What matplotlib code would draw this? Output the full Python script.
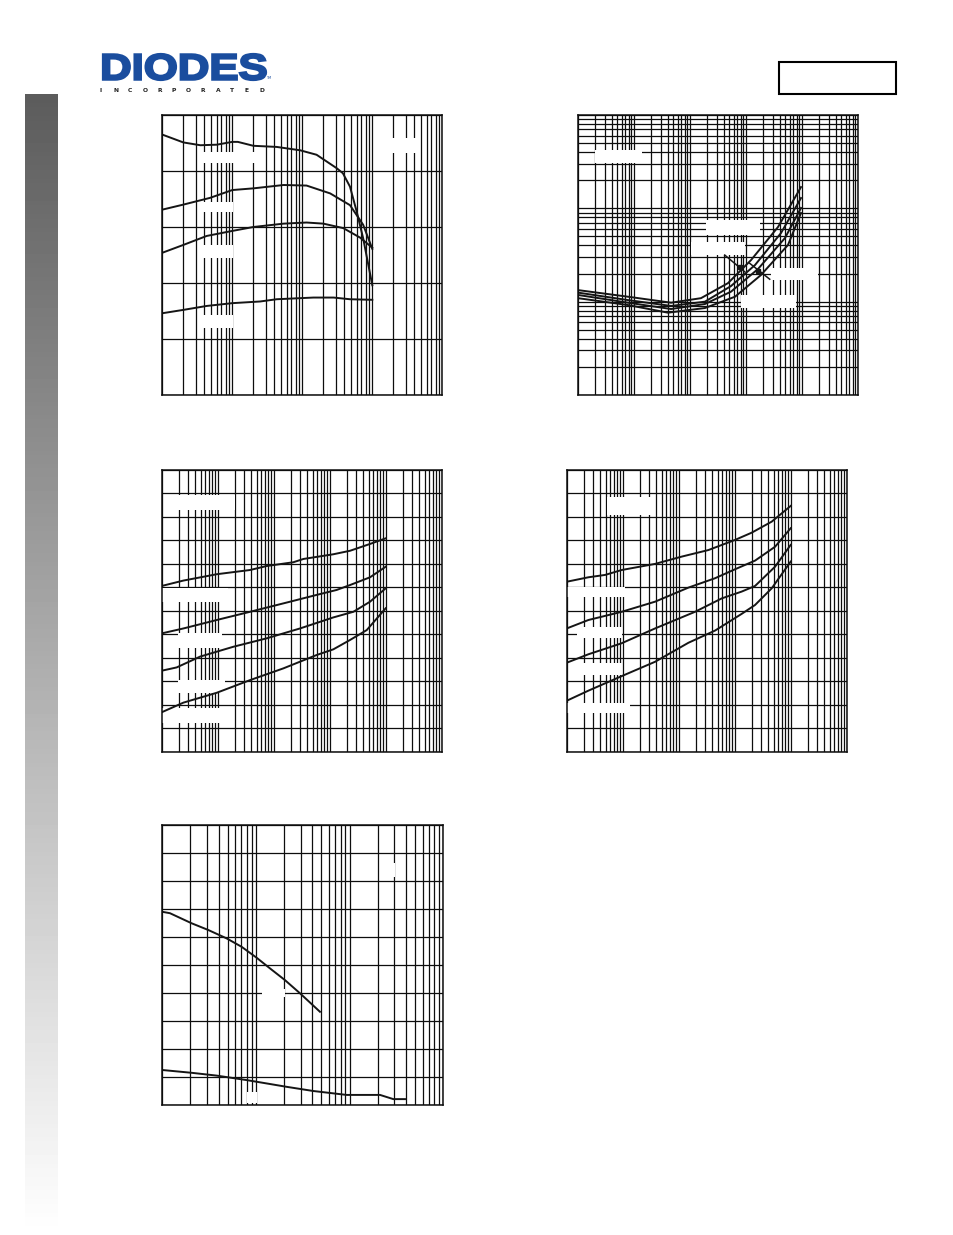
import numpy as np
import matplotlib
matplotlib.use("Agg")
import matplotlib.pyplot as plt
from matplotlib.patches import Rectangle, PathPatch
from matplotlib.ticker import LogLocator, MultipleLocator, NullFormatter
from matplotlib.textpath import TextPath
from matplotlib.font_manager import FontProperties
from matplotlib.transforms import Affine2D

W, H = 954, 1235

# ---- values ----
# panel 1 (top left), log x / linear y
p1_x1 = [0.1, 0.2, 0.35, 0.6, 1.0, 1.2, 2, 4.3, 9.3, 16, 31, 38, 48, 60, 74, 100]
p1_y1 = [465, 451, 446, 447, 452, 452, 445, 443, 437, 429, 405, 396, 372, 327, 280, 196]
p1_x2 = [0.1, 0.2, 0.48, 1.0, 2, 5.4, 11.5, 25, 48, 74, 100]
p1_y2 = [331, 340, 352, 366, 369, 375, 374, 360, 339, 304, 261]
p1_x3 = [0.1, 0.2, 0.43, 1.0, 2, 5.4, 11.5, 20, 38.5, 67, 100]
p1_y3 = [254, 268, 284, 293, 300, 306, 308, 306, 298, 281, 263]
p1_x4 = [0.1, 0.2, 0.43, 1.0, 2.5, 4.3, 14.4, 28, 48, 100]
p1_y4 = [146, 152, 159, 164, 167, 171, 174, 174, 171, 170]

# panel 2 (top right), log x / log y
p2_x1 = [0.1, 0.78, 4.6, 15.7, 47.7, 123, 373, 960]
p2_y1 = [0.0133, 0.0113, 0.00975, 0.0109, 0.0158, 0.0279, 0.0631, 0.169]
p2_x2 = [0.1, 0.78, 4.6, 18.5, 54, 145, 422, 960]
p2_y2 = [0.0125, 0.0104, 0.0090, 0.0100, 0.0147, 0.0247, 0.0544, 0.129]
p2_x3 = [0.1, 0.78, 4.6, 18.5, 54, 164, 497, 960]
p2_y3 = [0.0118, 0.00975, 0.00834, 0.00944, 0.0128, 0.0224, 0.0481, 0.101]
p2_x4 = [0.1, 0.78, 4.05, 18.5, 63.7, 185, 562, 960]
p2_y4 = [0.0109, 0.0092, 0.00762, 0.00855, 0.0113, 0.0193, 0.0405, 0.0891]
# leader marks in panel 2
p2_lead1_x = [41.7, 94.8]
p2_lead1_y = [0.0316, 0.0209]
p2_dot1 = (77.2, 0.0233)
p2_lead2_x = [116, 265]
p2_lead2_y = [0.0258, 0.0174]
p2_dot2 = (164, 0.0215)

# panel 3 (middle left), log x / linear y
p3_x1 = [0.1, 0.244, 0.96, 3.78, 7.5, 22.4, 33.9, 116, 231, 525, 1000]
p3_y1 = [0.706, 0.729, 0.756, 0.774, 0.791, 0.807, 0.821, 0.841, 0.856, 0.885, 0.909]
p3_x2 = [0.1, 0.244, 0.96, 3.78, 19.6, 58.6, 133, 231, 525, 1000]
p3_y2 = [0.504, 0.525, 0.561, 0.596, 0.639, 0.668, 0.689, 0.710, 0.743, 0.788]
p3_x3 = [0.1, 0.185, 0.484, 1.9, 7.5, 29.5, 116, 265, 525, 1000]
p3_y3 = [0.345, 0.359, 0.405, 0.447, 0.483, 0.525, 0.572, 0.596, 0.639, 0.696]
p3_x4 = [0.1, 0.244, 0.96, 3.78, 14.9, 58.6, 116, 231, 458, 1000]
p3_y4 = [0.168, 0.209, 0.251, 0.305, 0.355, 0.412, 0.436, 0.476, 0.518, 0.611]

# panel 4 (middle right), log x / linear y
p4_x1 = [0.1, 0.244, 0.484, 0.96, 3.78, 11.3, 33.9, 101, 201, 458, 1000]
p4_y1 = [0.724, 0.743, 0.753, 0.774, 0.800, 0.831, 0.859, 0.902, 0.933, 0.980, 1.047]
p4_x2 = [0.1, 0.244, 0.96, 3.78, 14.9, 44.6, 101, 231, 525, 1000]
p4_y2 = [0.525, 0.561, 0.596, 0.639, 0.699, 0.739, 0.777, 0.814, 0.873, 0.952]
p4_x3 = [0.1, 0.244, 0.96, 3.78, 19.6, 58.6, 133, 231, 525, 1000]
p4_y3 = [0.379, 0.415, 0.462, 0.525, 0.596, 0.653, 0.682, 0.706, 0.788, 0.881]
p4_x4 = [0.1, 0.244, 0.96, 3.78, 14.9, 44.6, 133, 231, 458, 1000]
p4_y4 = [0.217, 0.260, 0.322, 0.383, 0.464, 0.516, 0.587, 0.625, 0.696, 0.810]

# panel 5 (bottom left), log x / linear y
p5_x1 = [0.1, 0.1207, 0.2056, 0.3097, 0.4864, 0.703, 1.016, 1.41, 2.04, 2.95, 4.82]
p5_y1 = [69.0, 68.5, 64.9, 62.5, 59.5, 56.5, 52.6, 48.8, 44.6, 39.9, 33.3]
p5_x2 = [0.1, 0.2056, 0.3802, 0.795, 1.3, 2.12, 4.09, 9.29, 21.1, 29.3, 39]
p5_y2 = [12.5, 11.5, 10.5, 8.9, 7.7, 6.5, 5.0, 3.6, 3.6, 2.1, 2.1]

fig = plt.figure(figsize=(W / 100, H / 100), dpi=100)
fig.patch.set_facecolor("white")


def panel(l, t, r, b, xlim, ylim, ylog=False, ystep=None):
    ax = fig.add_axes([l / W, 1 - b / H, (r - l) / W, (b - t) / H])
    ax.set_xscale("log")
    ax.xaxis.set_major_locator(LogLocator(base=10, numticks=100))
    ax.xaxis.set_minor_locator(LogLocator(base=10, subs=np.arange(2, 10), numticks=100))
    if ylog:
        ax.set_yscale("log")
        ax.yaxis.set_major_locator(LogLocator(base=10, numticks=100))
        ax.yaxis.set_minor_locator(LogLocator(base=10, subs=np.arange(2, 10), numticks=100))
    else:
        ax.yaxis.set_major_locator(MultipleLocator(ystep))
    ax.set_xlim(*xlim)
    ax.set_ylim(*ylim)
    ax.xaxis.set_minor_formatter(NullFormatter())
    ax.yaxis.set_minor_formatter(NullFormatter())
    ax.tick_params(which="both", length=0, labelbottom=False, labelleft=False)
    ax.set_axisbelow(True)
    ax.grid(True, which="both", color="#0d0d0d", lw=0.9)
    for s in ax.spines.values():
        s.set_linewidth(1.1)
        s.set_color("#0d0d0d")
    return ax


def blank(ax, x0, y0, x1, y1):
    # white box where a label sits on the page
    ax.add_patch(Rectangle((x0 / W, 1 - y1 / H), (x1 - x0) / W, (y1 - y0) / H,
                           transform=fig.transFigure, fc="white", ec="none", zorder=1))


lkw = dict(color="#151515", lw=1.4, zorder=2)

# panel 1
ax1 = panel(162.3, 115, 442.3, 395, (0.1, 1000), (0, 500), ystep=100)
for xs, ys in [(p1_x1, p1_y1), (p1_x2, p1_y2), (p1_x3, p1_y3), (p1_x4, p1_y4)]:
    ax1.plot(xs, ys, **lkw)
for box in [(200, 151.7, 256.7, 163.3), (200, 201.7, 233.3, 212.3),
            (200, 245, 233.3, 257.7), (200, 315, 233.3, 327.7), (390, 138.3, 420, 153.3)]:
    blank(ax1, *box)

# panel 2
ax2 = panel(578, 115, 858, 395, (0.1, 1e4), (1e-3, 1), ylog=True)
for xs, ys in [(p2_x1, p2_y1), (p2_x2, p2_y2), (p2_x3, p2_y3), (p2_x4, p2_y4)]:
    ax2.plot(xs, ys, **lkw)
ax2.plot(p2_lead1_x, p2_lead1_y, color="#151515", lw=1.1, zorder=3)
ax2.plot(p2_lead2_x, p2_lead2_y, color="#151515", lw=1.1, zorder=3)
ax2.plot(*p2_dot1, "s", color="#151515", ms=3.5, zorder=3)
ax2.plot(*p2_dot2, "s", color="#151515", ms=3.5, zorder=3)
for box in [(595, 150, 642, 163), (706, 220, 760, 235), (691, 242, 745, 255),
            (771, 268, 818, 280), (741, 295, 796, 308)]:
    blank(ax2, *box)

# panel 3
ax3 = panel(161.7, 470, 441.7, 751.7, (0.1, 1e4), (0, 1.2), ystep=0.1)
for xs, ys in [(p3_x1, p3_y1), (p3_x2, p3_y2), (p3_x3, p3_y3), (p3_x4, p3_y4)]:
    ax3.plot(xs, ys, **lkw)
for box in [(178.3, 495, 235, 510), (162, 587.7, 228, 601.7), (178, 633, 222, 648),
            (178, 680, 225, 693), (162, 708, 232, 723)]:
    blank(ax3, *box)

# panel 4
ax4 = panel(566.7, 470, 846.7, 751.7, (0.1, 1e4), (0, 1.2), ystep=0.1)
for xs, ys in [(p4_x1, p4_y1), (p4_x2, p4_y2), (p4_x3, p4_y3), (p4_x4, p4_y4)]:
    ax4.plot(xs, ys, **lkw)
for box in [(606.7, 496.7, 651.7, 515), (567, 586.7, 625, 596.7), (576.7, 626.7, 621.7, 638.3),
            (576.7, 663.3, 621.7, 675), (567, 703.3, 630, 713.3)]:
    blank(ax4, *box)

# panel 5
ax5 = panel(162.3, 825, 443.3, 1105, (0.1, 100), (0, 100), ystep=10)
for xs, ys in [(p5_x1, p5_y1), (p5_x2, p5_y2)]:
    ax5.plot(xs, ys, **lkw)
for box in [(380, 863, 395, 876.7), (262, 989, 285, 997), (246.7, 1092, 257.3, 1103)]:
    blank(ax5, *box)

# grey side bar
side = fig.add_axes([25 / W, 0, 33 / W, (H - 94) / H])
side.imshow(np.linspace(0.36, 1.0, 256)[:, None], cmap="gray", vmin=0, vmax=1, aspect="auto")
side.axis("off")

# logo
fp = FontProperties(family="Liberation Sans", weight="bold")
tp = TextPath((0, 0), "DIODES", size=1, prop=fp)
ext = tp.get_extents()
lx0, ly0, lx1, ly1 = 103, 54, 266, 80
sx = (lx1 - lx0) / ext.width
sy = (ly1 - ly0) / ext.height
tr = (Affine2D().translate(-ext.x0, -ext.y0).scale(sx / W, sy / H)
      .translate(lx0 / W, 1 - ly1 / H) + fig.transFigure)
fig.add_artist(PathPatch(tp, transform=tr, fc="#1a4d9e", ec="#1a4d9e", lw=1.6))
for i, ch in enumerate("INCORPORATED"):
    fig.text((101 + i * 14.6) / W, 1 - 90.5 / H, ch, fontsize=4.3, fontweight="bold",
             ha="center", va="center", color="#222222")
fig.text(266 / W, 1 - 78 / H, "TM", fontsize=2.5, color="#1a4d9e", ha="left", va="center")

# part number box
fig.add_artist(Rectangle((779.3 / W, 1 - 94 / H), (896 - 779.3) / W, (94 - 62.3) / H,
                         transform=fig.transFigure, fc="none", ec="black", lw=1.5))

fig.savefig("out.png", dpi=100)
